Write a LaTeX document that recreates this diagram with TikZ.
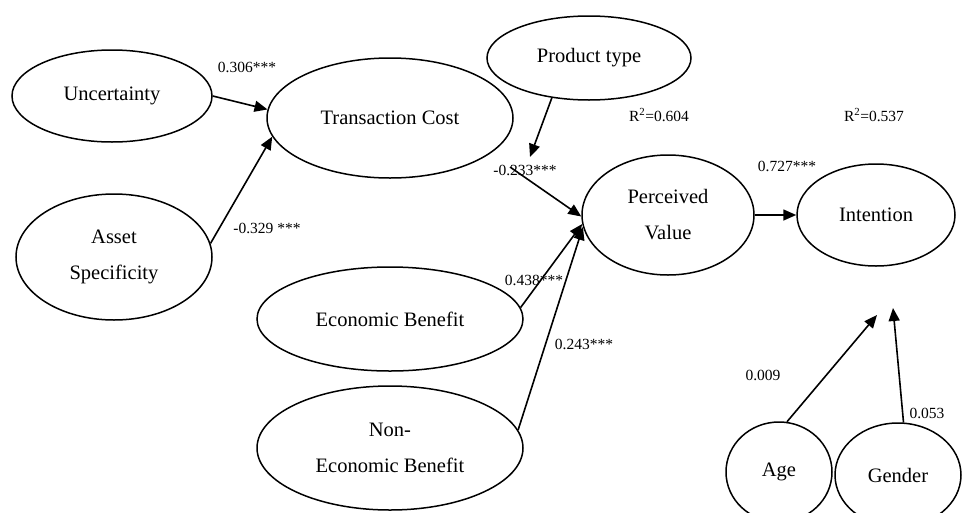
\documentclass[tikz,border=0pt]{standalone}
\usepackage{fontspec}
\setmainfont{Liberation Serif}
\usetikzlibrary{shapes.geometric,arrows.meta}
\tikzset{
  lat/.style={ellipse,draw,line width=1.5pt,inner sep=0pt,align=center,
    font=\fontsize{20.5}{36}\selectfont},
  conn/.style={line width=1.6pt,-{Triangle[length=13pt,width=11pt]}},
  coef/.style={font=\fontsize{15.5}{18}\selectfont,inner sep=0pt},
}
\begin{document}
\begin{tikzpicture}[x=1pt,y=-1pt]
\useasboundingbox (0,0) rectangle (962,512);
\clip (0,0) rectangle (962,512);
% latent variables
\node[lat,minimum width=200pt,minimum height=92pt] (unc) at (112,96) {Uncertainty};
\node[lat,minimum width=246pt,minimum height=120pt] (tc) at (390,118) {Transaction Cost};
\node[lat,minimum width=196pt,minimum height=126pt] (asset) at (114,257) {Asset\\Specificity};
\node[lat,minimum width=204pt,minimum height=84pt] (prod) at (589,58) {Product type};
\node[lat,minimum width=172pt,minimum height=120pt] (pv) at (668,215) {Perceived\\Value};
\node[lat,minimum width=158pt,minimum height=102pt] (int) at (876,215) {Intention};
\node[lat,minimum width=266pt,minimum height=104pt] (eb) at (390,319) {Economic Benefit};
\node[lat,minimum width=266pt,minimum height=124pt] (neb) at (390,448) {Non-\\Economic Benefit};
\node[lat,minimum width=106pt,minimum height=100pt] (age) at (779,472) {Age};
\node[lat,minimum width=126pt,minimum height=104pt] (gen) at (898,475) {Gender};
% free ends
\coordinate (tcpv) at (510,167);
\coordinate (modtip) at (530,157);
\coordinate (agetip) at (877,315);
\coordinate (gentip) at (893,308);
% connectors
\draw[conn] (unc.east) -- (tc.176);
\draw[conn] (asset.8) -- (tc.189);
\draw[conn] (prod.227) -- (modtip);
\draw[conn] (tcpv) -- (pv.181);
\draw[conn] (eb.5) -- (pv.186);
\draw[conn] (neb.8) -- (pv.188);
\draw[conn] (pv.east) -- (int.west);
\draw[conn] (age.81) -- (agetip);
\draw[conn] (gen.84) -- (gentip);
% coefficients
\node[coef] (c1) at (247,67) {0.306***};
\node[coef] (c2) at (267,228) {-0.329 ***};
\node[coef] (c3) at (525,170) {-0.233***};
\node[coef] (c4) at (659,115) {R\textsuperscript{2}=0.604};
\node[coef] (c5) at (874,115) {R\textsuperscript{2}=0.537};
\node[coef] (c6) at (787,166) {0.727***};
\node[coef] (c7) at (534,280) {0.438***};
\node[coef] (c8) at (584,344) {0.243***};
\node[coef] (c9) at (763,375) {0.009};
\node[coef] (c10) at (927,413) {0.053};
\end{tikzpicture}
\end{document}
